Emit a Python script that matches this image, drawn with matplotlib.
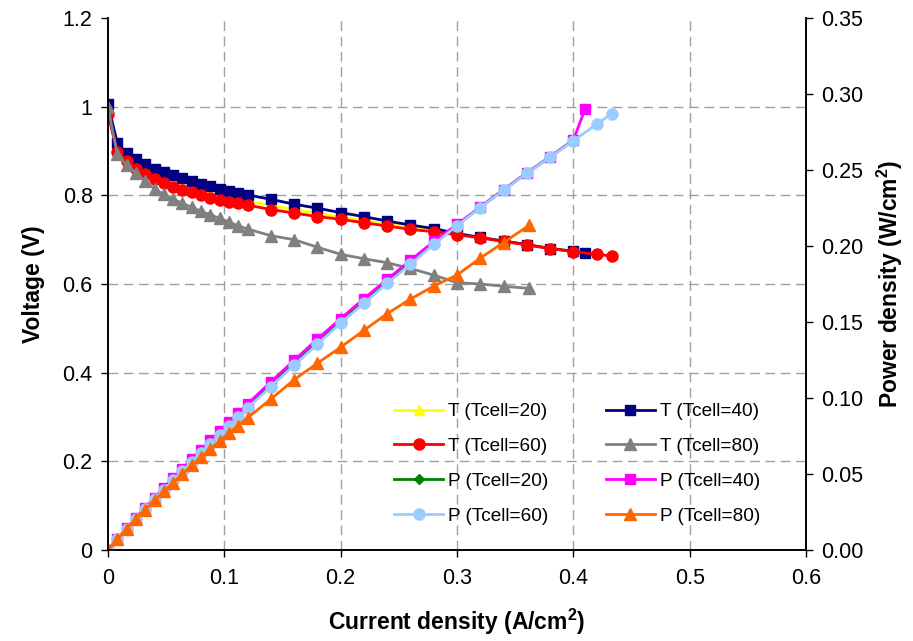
import matplotlib
matplotlib.use('Agg')
import matplotlib.pyplot as plt

plt.rcParams['font.family'] = ['Liberation Sans', 'DejaVu Sans']
plt.rcParams['mathtext.fontset'] = 'custom'
plt.rcParams['mathtext.rm'] = 'Liberation Sans'
plt.rcParams['mathtext.bf'] = 'Liberation Sans:bold'

# current density (A/cm2)
i_base = [0, 0.008, 0.016, 0.024, 0.032, 0.040, 0.048, 0.056, 0.064, 0.072,
          0.080, 0.088, 0.096, 0.104, 0.112, 0.120, 0.14, 0.16, 0.18, 0.20,
          0.22, 0.24, 0.26, 0.28, 0.30, 0.32, 0.34, 0.36, 0.38, 0.40]
i_20 = i_base
i_40 = i_base + [0.41]
i_60 = i_base + [0.42, 0.433]
i_80 = i_base[:27] + [0.362]

# voltage (V)
v_20 = [1.008, 0.905, 0.884, 0.868, 0.856, 0.846, 0.837, 0.829, 0.822, 0.816,
        0.810, 0.804, 0.799, 0.795, 0.791, 0.787, 0.777, 0.768, 0.759, 0.751,
        0.743, 0.735, 0.727, 0.720, 0.712, 0.705, 0.697, 0.689, 0.681, 0.674]
v_40 = [1.005, 0.918, 0.895, 0.882, 0.871, 0.860, 0.852, 0.845, 0.838, 0.832,
        0.826, 0.820, 0.815, 0.810, 0.805, 0.801, 0.791, 0.780, 0.771, 0.761,
        0.752, 0.742, 0.733, 0.725, 0.714, 0.705, 0.697, 0.689, 0.680, 0.674,
        0.669]
v_60 = [0.983, 0.897, 0.877, 0.860, 0.847, 0.836, 0.827, 0.818, 0.812, 0.807,
        0.801, 0.795, 0.790, 0.786, 0.782, 0.778, 0.768, 0.760, 0.752, 0.746,
        0.738, 0.731, 0.723, 0.718, 0.711, 0.704, 0.696, 0.688, 0.680, 0.673,
        0.667, 0.663]
v_80 = [1.000, 0.893, 0.868, 0.850, 0.832, 0.815, 0.802, 0.791, 0.782, 0.773,
        0.764, 0.756, 0.748, 0.740, 0.731, 0.724, 0.709, 0.700, 0.683, 0.667,
        0.657, 0.648, 0.635, 0.620, 0.603, 0.600, 0.595, 0.590]

# power density (W/cm2)
p_20 = [0, 0.0072, 0.0141, 0.0208, 0.0274, 0.0338, 0.0402, 0.0464, 0.0526, 0.0588,
        0.0648, 0.0708, 0.0767, 0.0827, 0.0886, 0.0944, 0.1088, 0.1229, 0.1366, 0.1502,
        0.1635, 0.1764, 0.1890, 0.2016, 0.2136, 0.2256, 0.2370, 0.2480, 0.2588, 0.2696]
p_40 = [0, 0.0073, 0.0143, 0.0212, 0.0279, 0.0344, 0.0409, 0.0473, 0.0536, 0.0599,
        0.0661, 0.0722, 0.0782, 0.0842, 0.0902, 0.0961, 0.1107, 0.1248, 0.1388, 0.1522,
        0.1654, 0.1781, 0.1906, 0.2030, 0.2142, 0.2256, 0.2370, 0.2480, 0.2584, 0.2696,
        0.2900]
p_60 = [0, 0.0072, 0.0140, 0.0206, 0.0271, 0.0334, 0.0397, 0.0458, 0.0520, 0.0581,
        0.0641, 0.0700, 0.0758, 0.0817, 0.0876, 0.0934, 0.1075, 0.1216, 0.1354, 0.1492,
        0.1624, 0.1754, 0.1880, 0.2010, 0.2133, 0.2253, 0.2366, 0.2477, 0.2584, 0.2692,
        0.2801, 0.2871]
p_80 = [0, 0.0071, 0.0139, 0.0204, 0.0266, 0.0326, 0.0385, 0.0443, 0.0500, 0.0557,
        0.0611, 0.0665, 0.0718, 0.0770, 0.0819, 0.0869, 0.0993, 0.1120, 0.1229, 0.1334,
        0.1445, 0.1555, 0.1651, 0.1736, 0.1809, 0.1920, 0.2023, 0.2136]

fig = plt.figure(figsize=(9.13, 6.41), dpi=100)
ax = fig.add_axes([108 / 913, 91 / 641, 698 / 913, 532 / 641])
ax2 = ax.twinx()

lw = 2.0
h_t20, = ax.plot(i_20, v_20, color='#FFFF00', marker='^', ms=7, lw=lw, label='T (Tcell=20)')
h_t40, = ax.plot(i_40, v_40, color='#000080', marker='s', ms=7, lw=lw, label='T (Tcell=40)')
h_t60, = ax.plot(i_60, v_60, color='#FF0000', marker='o', ms=8, lw=lw, label='T (Tcell=60)')
h_t80, = ax.plot(i_80, v_80, color='#808080', marker='^', ms=8, lw=lw, label='T (Tcell=80)')
h_p20, = ax2.plot(i_20, p_20, color='#008000', marker='D', ms=5, lw=lw, label='P (Tcell=20)')
h_p40, = ax2.plot(i_40, p_40, color='#FF00FF', marker='s', ms=7, lw=lw, label='P (Tcell=40)')
h_p60, = ax2.plot(i_60, p_60, color='#99CCFF', marker='o', ms=8, lw=lw, label='P (Tcell=60)')
h_p80, = ax2.plot(i_80, p_80, color='#FF6600', marker='^', ms=8, lw=lw, label='P (Tcell=80)')

ax.set_xlim(0, 0.6)
ax.set_ylim(0, 1.2)
ax2.set_ylim(0, 0.35)
ax.set_xticks([0, 0.1, 0.2, 0.3, 0.4, 0.5, 0.6])
ax.set_xticklabels(['0', '0.1', '0.2', '0.3', '0.4', '0.5', '0.6'])
ax.set_yticks([0, 0.2, 0.4, 0.6, 0.8, 1.0, 1.2])
ax.set_yticklabels(['0', '0.2', '0.4', '0.6', '0.8', '1', '1.2'])
ax2.set_yticks([0, 0.05, 0.10, 0.15, 0.20, 0.25, 0.30, 0.35])
ax2.set_yticklabels(['%.2f' % t for t in [0, 0.05, 0.10, 0.15, 0.20, 0.25, 0.30, 0.35]])

# dashed grid tied to the voltage axis
for y in [0.2, 0.4, 0.6, 0.8, 1.0]:
    ax.axhline(y, color='#a0a0a0', ls=(0, (7, 4)), lw=1.0, zorder=0)
for x in [0.1, 0.2, 0.3, 0.4, 0.5]:
    ax.axvline(x, color='#a0a0a0', ls=(0, (7, 4)), lw=1.0, zorder=0)

for a in (ax, ax2):
    a.spines['top'].set_visible(False)
    for s in a.spines.values():
        s.set_linewidth(1.2)
    a.tick_params(labelsize=15.5, direction='out', length=5, width=1)
ax.tick_params(axis='y', pad=6)
ax2.tick_params(axis='y', pad=6)
ax.tick_params(axis='x', pad=8)

ax.set_xlabel(r'Current density (A/cm$^\mathbf{2}$)', fontsize=16.5, fontweight='bold', labelpad=13)
ax.set_ylabel('Voltage (V)', fontsize=16.5, fontweight='bold', labelpad=13)
ax2.set_ylabel(r'Power density (W/cm$^\mathbf{2}$)', fontsize=16.5, fontweight='bold', labelpad=8)

# legend reads row-wise, matplotlib fills column-wise
handles = [h_t20, h_t60, h_p20, h_p60, h_t40, h_t80, h_p40, h_p80]
ax2.legend(handles=handles, labels=[h.get_label() for h in handles], ncol=2,
           loc='upper left', bbox_to_anchor=(394 / 913, 1 - 403 / 641),
           bbox_transform=fig.transFigure, frameon=False, fontsize=13.7,
           borderpad=0, borderaxespad=0, handlelength=2.6, handletextpad=0.25,
           columnspacing=3.0, labelspacing=0.92)

fig.savefig('out.png', dpi=100)
